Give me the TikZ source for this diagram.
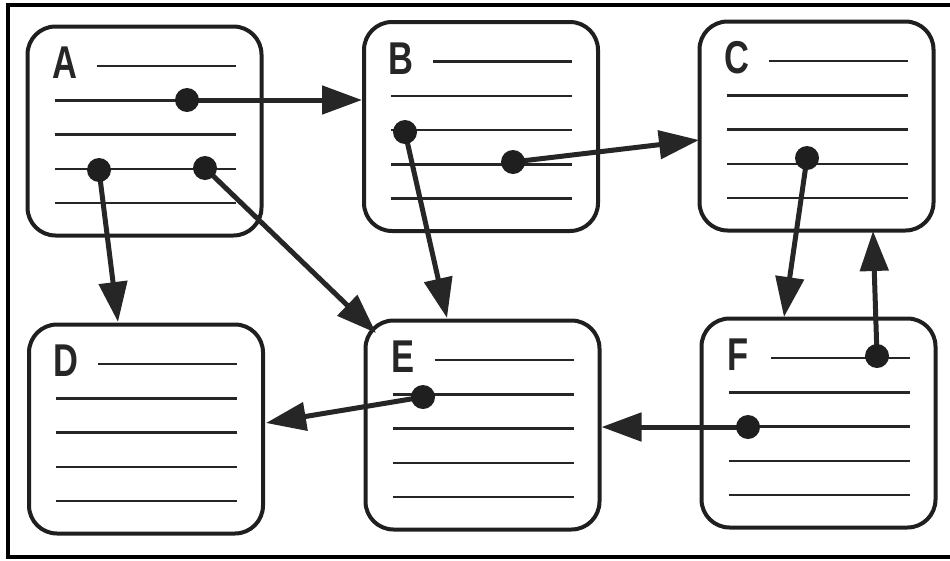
\documentclass[tikz,border=0pt]{standalone}
\usepackage{fontspec}
\usetikzlibrary{arrows.meta}
\newfontfamily\tagfont[FakeStretch=0.75]{Liberation Sans}

\tikzstyle{card}=[draw=black!88,fill=white,line width=4pt,rounded corners=28pt,minimum width=234pt,minimum height=209pt,inner sep=0pt]
\tikzstyle{rule}=[draw=black!85,line width=2.5pt]
\tikzstyle{tag}=[font=\tagfont\bfseries\fontsize{46}{46}\selectfont,text=black!85,inner sep=0pt]
\tikzstyle{dot}=[circle,fill=black!88,minimum size=24pt,inner sep=0pt]
\tikzstyle{link}=[draw=black!85,line width=5pt,-{Triangle[length=40pt,width=28pt]}]

\begin{document}
\begin{tikzpicture}[x=1pt,y=-1pt]
\useasboundingbox (0,0) rectangle (950,560);
% frame
\draw[line width=4pt] (954,5) -- (8,5) -- (8,557) -- (954,557);

% records
\foreach \n/\cx/\cy in {A/144.5/131,B/481/126.5,C/816.5/126,D/146/429,E/482.5/425,F/818.5/423}{
   \node[card] (\n) at (\cx,\cy) {};
   \node[tag] (\n-tag) at (\cx-80,\cy-68) {\n};
   \draw[rule] (\cx-48,\cy-65) -- (\cx+91,\cy-65);
   \foreach \k in {1,...,4}
      \draw[rule] (\cx-90,\cy-65+34.3*\k) -- (\cx+91,\cy-65+34.3*\k);
}

% pointers
\coordinate (a1) at (187,100);
\coordinate (a2) at (99,170);
\coordinate (a3) at (205,168);
\coordinate (b1) at (405,132);
\coordinate (b2) at (513,162);
\coordinate (c1) at (807,158);
\coordinate (e1) at (423,397);
\coordinate (f1) at (877,356);
\coordinate (f2) at (748,427);

\coordinate (c-in) at (699,140);
\coordinate (c-in2) at (873,231);
\coordinate (d-in) at (118,322);
\coordinate (d-in2) at (266,423);
\coordinate (e-in) at (376,333);
\coordinate (e-in2) at (447,318);
\coordinate (f-in) at (784,317);

\draw[link] (a1) -- (B.west |- a1);
\draw[link] (a2) -- (d-in);
\draw[link] (a3) -- (e-in);
\draw[link] (b1) -- (e-in2);
\draw[link] (b2) -- (c-in);
\draw[link] (c1) -- (f-in);
\draw[link] (f1) -- (c-in2);
\draw[link] (f2) -- (E.east |- f2);
\draw[link] (e1) -- (d-in2);

\foreach \p in {a1,a2,a3,b1,b2,c1,e1,f1,f2}
   \node[dot] (\p-dot) at (\p) {};

\end{tikzpicture}
\end{document}
